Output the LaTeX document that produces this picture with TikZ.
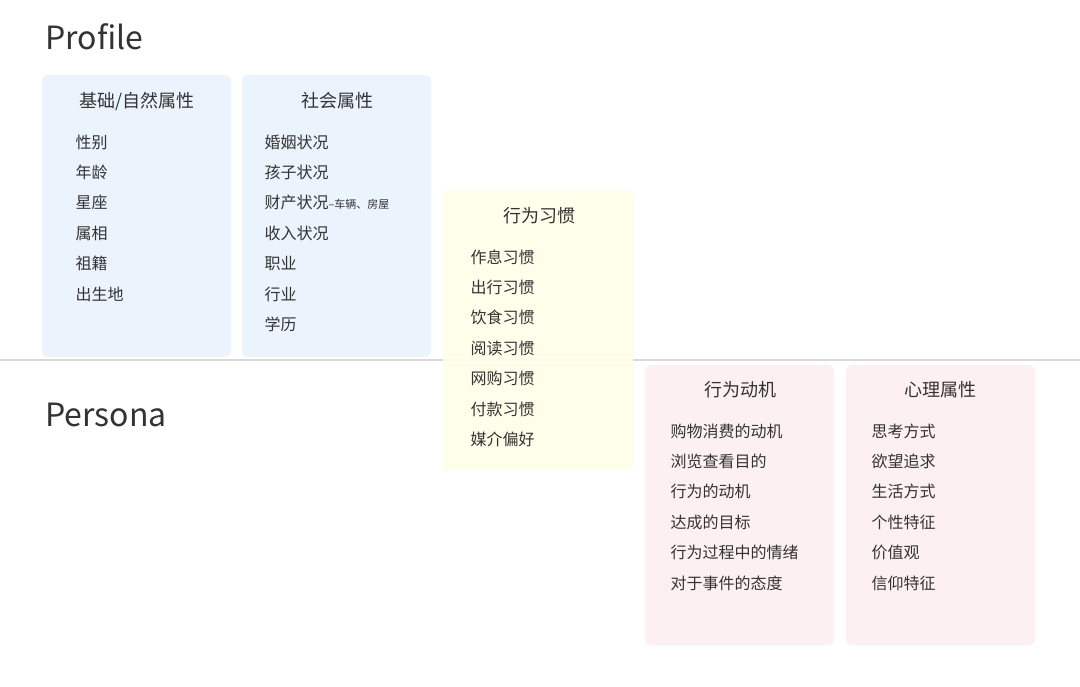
\documentclass[tikz,border=0pt]{standalone}
\usepackage{fontspec}
\setmainfont{Noto Sans CJK SC}
\definecolor{bluebg}{HTML}{EBF3FC}
\definecolor{yelbg}{HTML}{FEFEEA}
\definecolor{pinkbg}{HTML}{FDF0F0}
\definecolor{txt}{HTML}{333333}
\begin{document}
\begin{tikzpicture}[x=1pt,y=-1pt,
  card/.style={rounded corners=6pt,minimum width=189pt,inner sep=0pt,anchor=north west},
  ttl/.style={font=\fontsize{18}{20}\selectfont,text=txt,anchor=center},
  itm/.style={font=\fontsize{16}{18}\selectfont,text=txt,anchor=west},
  big/.style={font=\fontsize{32}{36}\selectfont,text=txt,anchor=west}]
\useasboundingbox[fill=white] (0,0) rectangle (1080,687);
\draw[color=black!15,line width=1pt] (0,360) -- (1080,360);
\fill[bluebg,rounded corners=6pt] (42,75) rectangle (231,357);
\fill[bluebg,rounded corners=6pt] (242,75) rectangle (431,357);
\fill[yelbg,opacity=0.93,rounded corners=6pt] (443,190) rectangle (633,470);
\fill[pinkbg,rounded corners=6pt] (645,365) rectangle (834,645);
\fill[pinkbg,rounded corners=6pt] (846,365) rectangle (1035,645);
\node[big] (pro) at (42,37) {Profile};
\node[big] (per) at (42,415) {Persona};
\node[ttl] (t1) at (137,101) {基础/自然属性};
\node[ttl] (t2) at (337,101) {社会属性};
\node[ttl] (t3) at (539,216) {行为习惯};
\node[ttl] (t4) at (740,390) {行为动机};
\node[ttl] (t5) at (940,390) {心理属性};
\foreach \t [count=\i] in {性别,年龄,星座,属相,祖籍,出生地}
  \node[itm] (a\i) at (72,{142+30.4*(\i-1)}) {\t};
\foreach \t [count=\i] in {婚姻状况,孩子状况,{财产状况{\fontsize{11}{12}\selectfont --车辆、房屋}},收入状况,职业,行业,学历}
  \node[itm] (b\i) at (261,{142+30.4*(\i-1)}) {\t};
\foreach \t [count=\i] in {作息习惯,出行习惯,饮食习惯,阅读习惯,网购习惯,付款习惯,媒介偏好}
  \node[itm] (c\i) at (467,{257+30.4*(\i-1)}) {\t};
\foreach \t [count=\i] in {购物消费的动机,浏览查看目的,行为的动机,达成的目标,行为过程中的情绪,对于事件的态度}
  \node[itm] (d\i) at (667,{431+30.4*(\i-1)}) {\t};
\foreach \t [count=\i] in {思考方式,欲望追求,生活方式,个性特征,价值观,信仰特征}
  \node[itm] (e\i) at (868,{431+30.4*(\i-1)}) {\t};
\end{tikzpicture}
\end{document}
